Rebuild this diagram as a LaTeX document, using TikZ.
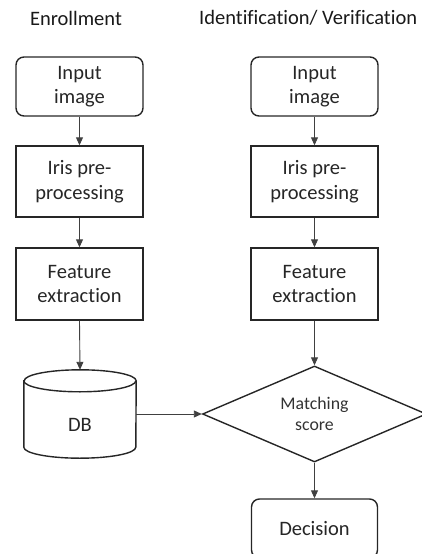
\documentclass[tikz,border=0pt]{standalone}
\usepackage{fontspec}
\setmainfont[Ligatures={NoCommon}]{Carlito}
\usetikzlibrary{arrows.meta,shapes.geometric}
\tikzset{
  boxline/.style={draw=black!85, line width=1.4pt},
  txt/.style={text=black!85, font=\fontsize{20.5}{24.5}\selectfont, align=center, inner sep=0pt},
  rbox/.style={boxline, txt, rounded corners=8pt, minimum width=127pt, minimum height=59pt},
  sbox/.style={boxline, txt, minimum width=127pt, minimum height=71pt},
  arr/.style={draw=black!75, line width=0.9pt, -{Triangle[length=8pt,width=7pt]}},
  head/.style={text=black!90, font=\fontsize{20.5}{24.5}\selectfont, inner sep=0pt}
}
\begin{document}
\begin{tikzpicture}[x=1pt,y=-1pt]
\clip (0,0) rectangle (422,554);
\node[head] (h1) at (76,18) {Enrollment};
\node[head, anchor=west] (h2) at (199,18) {Identification/ Verification};
% left column
\node[rbox] (in1) at (79.5,86.5) {Input\\image};
\node[sbox] (ip1) at (79.5,181.5) {Iris pre-\\processing};
\node[sbox, minimum height=72pt] (fe1) at (79.5,284) {Feature\\extraction};
\node[txt, minimum width=112pt, minimum height=44pt] (db) at (80,425) {DB};
\draw[boxline] ([yshift=22pt]db.north west) -- (db.south west)
  arc[start angle=180, end angle=360, x radius=56pt, y radius=11pt]
  -- ([yshift=22pt]db.north east)
  arc[start angle=0, end angle=180, x radius=56pt, y radius=11pt] -- cycle;
\draw[boxline] ([yshift=22pt]db.north west)
  arc[start angle=180, end angle=360, x radius=56pt, y radius=11pt];
\coordinate (dbtop) at ([yshift=33pt]db.north);
% right column
\node[rbox] (in2) at (314.5,86.5) {Input\\image};
\node[sbox] (ip2) at (314.5,181.5) {Iris pre-\\processing};
\node[sbox, minimum height=72pt] (fe2) at (314.5,284) {Feature\\extraction};
\node[boxline, diamond, shape aspect=2.33, minimum width=224pt, minimum height=96pt,
  inner sep=0pt, text=black!80, align=center, font=\fontsize{17.8}{20.5}\selectfont]
  (dia) at (314.5,414) {Matching\\score};
\node[rbox, minimum width=126pt, minimum height=59pt] (dec) at (314.5,528.5) {Decision};
% connectors
\draw[arr] (in1.south) -- (ip1.north);
\draw[arr] (ip1.south) -- (fe1.north);
\draw[arr] (fe1.south) -- (dbtop);
\draw[arr] (in2.south) -- (ip2.north);
\draw[arr] (ip2.south) -- (fe2.north);
\draw[arr] (fe2.south) -- (dia.north);
\draw[arr] (db.east |- dia.west) -- (dia.west);
\draw[arr] (dia.south) -- (dec.north);
\end{tikzpicture}
\end{document}
